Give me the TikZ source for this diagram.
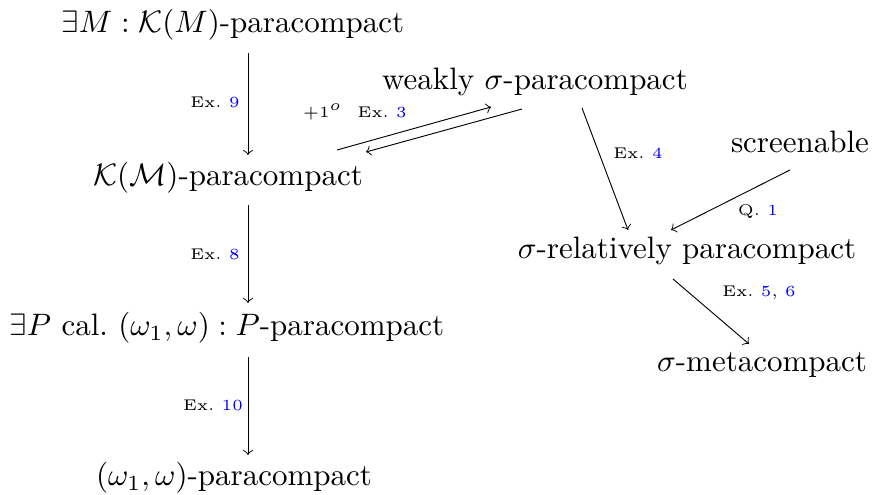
\documentclass[tikz,border=0pt]{standalone}
\usepackage{amsmath,amssymb}
\begin{document}
\begin{tikzpicture}[x=0.3226pt,y=-0.3226pt,
  main/.style={inner sep=0pt,font=\normalsize},
  lab/.style={inner sep=0pt,font=\tiny},
  arr/.style={->,line width=0.3pt}]
\useasboundingbox (0,0) rectangle (873,495);
% nodes
\node[main] (mk) at (233,25) {$\exists M:\mathcal{K}(M)$-paracompact};
\node[main] (km) at (228,178) {$\mathcal{K}(\mathcal{M})$-paracompact};
\node[main] (pp) at (227,328) {$\exists P$ cal.\ $(\omega_1,\omega):P$-paracompact};
\node[main] (wp) at (234,478) {$(\omega_1,\omega)$-paracompact};
\node[main] (ws) at (535,82) {weakly $\sigma$-paracompact};
\node[main] (sc) at (800,142) {screenable};
\node[main] (sr) at (687,251) {$\sigma$-relatively paracompact};
\node[main] (sm) at (762,365) {$\sigma$-metacompact};
% connector end points
\coordinate (a1) at (248,53);  \coordinate (b1) at (248,155);
\coordinate (a2) at (248,205); \coordinate (b2) at (248,303);
\coordinate (a3) at (248,357); \coordinate (b3) at (248,455);
\coordinate (a4) at (337,150); \coordinate (b4) at (491,107);
\coordinate (a5) at (522,109); \coordinate (b5) at (366,152);
\coordinate (a6) at (582,108); \coordinate (b6) at (628,230);
\coordinate (a7) at (790,170); \coordinate (b7) at (671,230);
\coordinate (a8) at (673,279); \coordinate (b8) at (749,344);
% connectors
\draw[arr] (a1) -- (b1);
\draw[arr] (a2) -- (b2);
\draw[arr] (a3) -- (b3);
\draw[arr] (a4) -- (b4);
\draw[arr] (a5) -- (b5);
\draw[arr] (a6) -- (b6);
\draw[arr] (a7) -- (b7);
\draw[arr] (a8) -- (b8);
% labels
\node[lab] (l1) at (215,102) {Ex.~\textcolor{blue}{9}};
\node[lab] (l2) at (215,254) {Ex.~\textcolor{blue}{8}};
\node[lab] (l3) at (213,405) {Ex.~\textcolor{blue}{10}};
\node[lab] (l4) at (355,112) {$+1^o$\quad Ex.~\textcolor{blue}{3}};
\node[lab] (l5) at (638,153) {Ex.~\textcolor{blue}{4}};
\node[lab] (l6) at (758,212) {Q.~\textcolor{blue}{1}};
\node[lab] (l7) at (759,293) {Ex.~\textcolor{blue}{5}, \textcolor{blue}{6}};
\end{tikzpicture}
\end{document}
